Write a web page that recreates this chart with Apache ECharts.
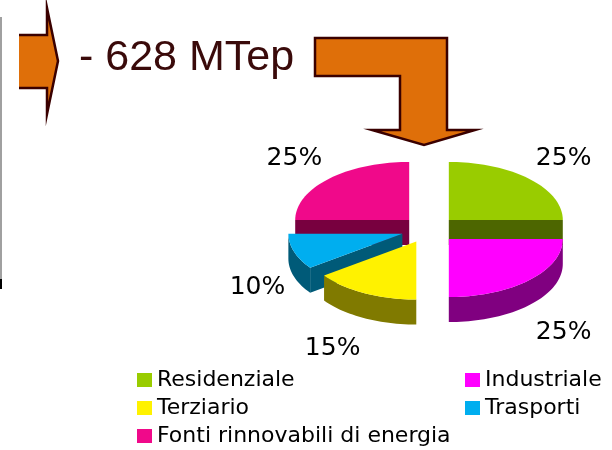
<!DOCTYPE html>
<html>
<head>
<meta charset="utf-8">
<script src="https://cdn.jsdelivr.net/npm/echarts@6/dist/echarts.min.js"></script>
<style>
html,body{margin:0;padding:0;background:#fff;}
#chart{width:612px;height:450px;}
</style>
</head>
<body>
<div id="chart"></div>
<script>
// ---- data ----
const categories = ['Residenziale', 'Industriale', 'Terziario', 'Trasporti', 'Fonti rinnovabili di energia'];
const shares = [25, 25, 15, 10, 25];
const headline = '- 628 MTep';

// ---- styles ----
const topColors  = ['#99CC00', '#FF00FF', '#FFF200', '#00AEEF', '#F0098A'];
const sideColors = ['#4D6600', '#800080', '#807A00', '#005A78', '#78003F'];
const drawOrder  = [2, 5, 4, 3, 1]; // z per slice (back to front)

// ---- pie layout (3D projection) ----
const CX = 429, CY = 229.5, RX = 114, RY = 58, H = 25, EX = 28, EY = 13.5;
const total = shares.reduce((a, b) => a + b, 0);
const rad = d => d * Math.PI / 180;
function pt(cx, cy, a) {
  return [cx + RX * Math.sin(rad(a)), cy - RY * Math.cos(rad(a))];
}
function arc(cx, cy, a0, a1) {
  const pts = [];
  const n = Math.max(2, Math.ceil((a1 - a0) / 2));
  for (let k = 0; k <= n; k++) pts.push(pt(cx, cy, a0 + (a1 - a0) * k / n));
  return pts;
}
function makeRender(i) {
  return function (params, api) {
    const before = shares.slice(0, i).reduce((a, b) => a + b, 0);
    const a0 = before / total * 360;
    const a1 = (before + api.value(0)) / total * 360;
    const mid = (a0 + a1) / 2;
    const ox = CX + EX * Math.sin(rad(mid));
    const oy = CY - EY * Math.cos(rad(mid));
    const children = [];
    // outer wall (front half only)
    const lo = Math.max(a0, 90), hi = Math.min(a1, 270);
    if (hi > lo) {
      const top = arc(ox, oy, lo, hi);
      const bot = top.map(p => [p[0], p[1] + H]).reverse();
      children.push({ type: 'polygon', shape: { points: top.concat(bot) }, style: { fill: sideColors[i] } });
    }
    // radial faces
    const face = a => {
      const e = pt(ox, oy, a);
      return { type: 'polygon', shape: { points: [[ox, oy], e, [e[0], e[1] + H], [ox, oy + H]] }, style: { fill: sideColors[i] } };
    };
    if (Math.sin(rad(a0)) < -0.01) children.push(face(a0));
    if (Math.sin(rad(a1)) > 0.01) children.push(face(a1));
    // top face
    children.push({ type: 'polygon', shape: { points: [[ox, oy]].concat(arc(ox, oy, a0, a1)) }, style: { fill: topColors[i] } });
    // label
    const s = Math.sin(rad(mid)), c = Math.cos(rad(mid));
    const lx = ox + RX * 1.08 * s;
    const ly = oy - RY * 1.2 * c + (c < 0 ? H + 7 : 0);
    children.push({
      type: 'text',
      style: {
        text: api.value(0) + '%', x: lx, y: ly,
        align: s >= 0 ? 'left' : 'right',
        verticalAlign: Math.abs(c) < 0.4 ? 'middle' : (c > 0 ? 'bottom' : 'top'),
        font: '25px "DejaVu Sans"', fill: '#000'
      }
    });
    return { type: 'group', children: children };
  };
}

const series = categories.map((name, i) => ({
  type: 'custom', name: name, coordinateSystem: 'none', z: drawOrder[i],
  silent: true, animation: false,
  itemStyle: { color: topColors[i] },
  data: [shares[i]],
  renderItem: makeRender(i)
}));

const legendCommon = {
  orient: 'vertical', top: 369, height: 81, padding: 0, itemWidth: 15, itemHeight: 14, itemGap: 6,
  icon: 'rect', selectedMode: false,
  textStyle: { fontFamily: 'DejaVu Sans', fontSize: 22, color: '#000' }
};

const arrowFill = '#DF6F09', arrowStroke = '#3A0000';
const chart = echarts.init(document.getElementById('chart'), null, { renderer: 'canvas' });
chart.setOption({
  backgroundColor: '#fff',
  animation: false,
  color: topColors,
  legend: [
    Object.assign({ left: 137, data: [categories[0], categories[2], categories[4]] }, legendCommon),
    Object.assign({ left: 465, data: [categories[1], categories[3]] }, legendCommon)
  ],
  graphic: [
    { type: 'line', shape: { x1: 1, y1: 17, x2: 1, y2: 280 }, style: { stroke: '#a0a0a0', lineWidth: 2 } },
    { type: 'line', shape: { x1: 1, y1: 279, x2: 1, y2: 289 }, style: { stroke: '#000', lineWidth: 2 } },
    { type: 'polygon', shape: { points: [[19,35],[47,35],[47,8],[58,61],[47,114],[47,88],[19,88]] }, style: { fill: arrowFill } },
    { type: 'polyline', shape: { points: [[19,35],[47,35],[47,8],[58,61],[47,114],[47,88],[19,88]] }, style: { stroke: arrowStroke, lineWidth: 2.5, fill: null } },
    { type: 'text', style: { text: headline, x: 79, y: 58, verticalAlign: 'middle', font: '43px "Liberation Sans"', fill: '#3A0A0A' } },
    { type: 'polygon', shape: { points: [[315,38],[447,38],[447,130],[475,130],[424,145],[372,130],[400,130],[400,76],[315,76]] }, style: { fill: arrowFill, stroke: arrowStroke, lineWidth: 2.5 } }
  ],
  series: series
});
</script>
</body>
</html>
